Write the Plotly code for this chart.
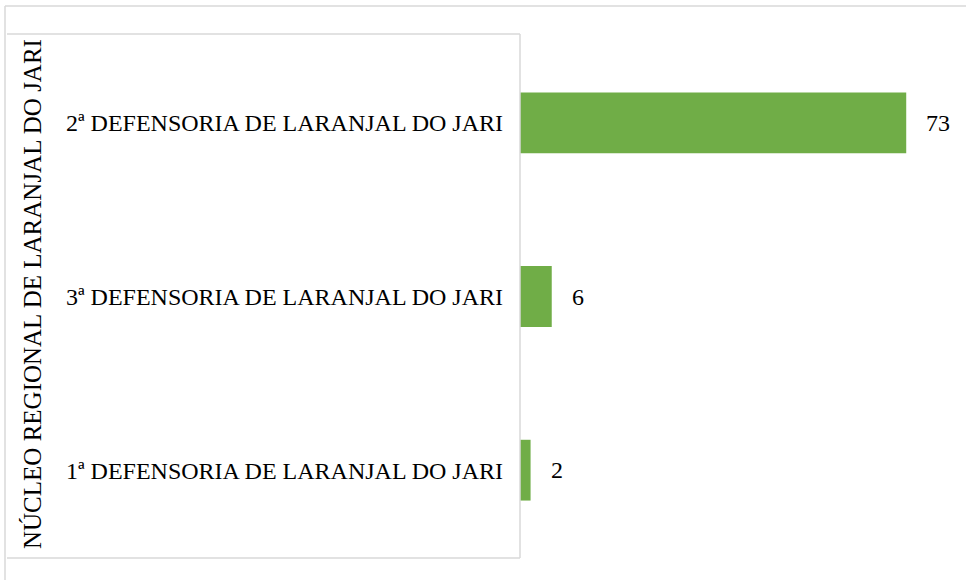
import plotly.graph_objects as go

categories = [
    "2ª DEFENSORIA DE LARANJAL DO JARI",
    "3ª DEFENSORIA DE LARANJAL DO JARI",
    "1ª DEFENSORIA DE LARANJAL DO JARI",
]
values = [73, 6, 2]
group_label = "NÚCLEO REGIONAL DE LARANJAL DO JARI"

W, H = 966, 580
L, R, T, B = 520, 0, 36, 23
pw = W - L - R
ph = H - T - B

def px_x(p):
    return (p - L) / pw

def px_y(p):
    return (H - B - p) / ph

FONT = "'Times New Roman', Tinos, 'Liberation Serif', 'DejaVu Serif', serif"
GRID = "#D9D9D9"

fig = go.Figure(go.Bar(
    x=values, y=categories, orientation="h",
    marker=dict(color="#70AD47", line=dict(width=0)),
    hoverinfo="x+y",
))

annotations = [
    dict(x=v, y=c, xref="x", yref="y", text=str(v), showarrow=False,
         xanchor="left", xshift=18, font=dict(family=FONT, size=24, color="#000000"))
    for c, v in zip(categories, values)
]
annotations.append(dict(
    x=px_x(32), y=px_y(294), xref="paper", yref="paper", text=group_label,
    textangle=-90, showarrow=False, xanchor="center", yanchor="middle",
    font=dict(family=FONT, size=25, color="#000000"),
))

shapes = [
    dict(type="line", xref="paper", yref="paper", x0=px_x(5), x1=px_x(966), y0=px_y(6), y1=px_y(6),
         line=dict(color=GRID, width=1.5)),
    dict(type="line", xref="paper", yref="paper", x0=px_x(5), x1=px_x(5), y0=px_y(6), y1=px_y(580),
         line=dict(color=GRID, width=1.5)),
    dict(type="line", xref="paper", yref="paper", x0=px_x(7), x1=px_x(520), y0=px_y(34), y1=px_y(34),
         line=dict(color=GRID, width=1.5)),
    dict(type="line", xref="paper", yref="paper", x0=px_x(7), x1=px_x(520), y0=px_y(558), y1=px_y(558),
         line=dict(color=GRID, width=1.5)),
    dict(type="line", xref="paper", yref="paper", x0=px_x(520), x1=px_x(520), y0=px_y(34), y1=px_y(558),
         line=dict(color=GRID, width=1.5)),
]

fig.update_layout(
    width=W, height=H,
    margin=dict(l=L, r=R, t=T, b=B, pad=0),
    paper_bgcolor="white", plot_bgcolor="white",
    bargap=0.65,
    showlegend=False,
    xaxis=dict(range=[0, 84.3], visible=False, fixedrange=True),
    yaxis=dict(
        autorange="reversed", showgrid=False, zeroline=False, showline=False,
        ticks="", ticklabelstandoff=16,
        tickfont=dict(family=FONT, size=24, color="#000000"),
    ),
    annotations=annotations,
    shapes=shapes,
)

fig.write_html(
    "out.html",
    config={"displayModeBar": False},
    post_script="document.body.style.margin='0';document.body.style.overflow='hidden';",
)
